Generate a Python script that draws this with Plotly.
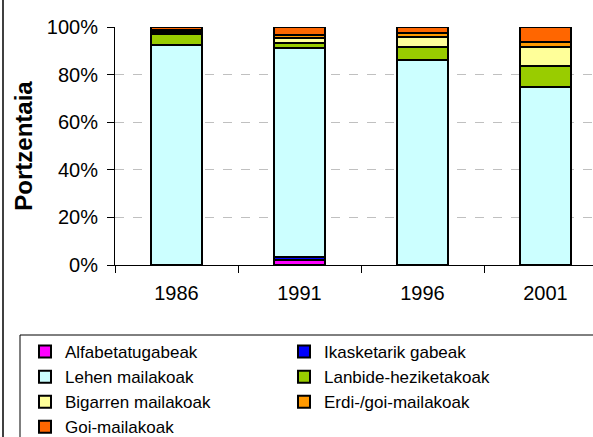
import plotly.graph_objects as go

years = ["1986", "1991", "1996", "2001"]
series_names = ["Alfabetatugabeak", "Ikasketarik gabeak", "Lehen mailakoak",
                "Lanbide-heziketakoak", "Bigarren mailakoak", "Erdi-/goi-mailakoak",
                "Goi-mailakoak"]
alfabetatugabeak = [0.0, 2.3, 0.0, 0.0]
ikasketarik_gabeak = [0.0, 1.2, 0.0, 0.0]
lehen_mailakoak = [92.4, 87.5, 86.0, 75.0]
lanbide_heziketakoak = [4.7, 2.1, 5.7, 8.7]
bigarren_mailakoak = [1.0, 2.2, 4.3, 7.8]
erdi_goi_mailakoak = [0.8, 1.5, 1.5, 2.0]
goi_mailakoak = [1.1, 3.2, 2.5, 6.5]
colors = ["#FF00FF", "#0000FF", "#CCFFFF", "#99CC00", "#FFFF99", "#FF9900", "#FF6600"]
y_ticks = [0, 20, 40, 60, 80, 100]

values = [alfabetatugabeak, ikasketarik_gabeak, lehen_mailakoak, lanbide_heziketakoak,
          bigarren_mailakoak, erdi_goi_mailakoak, goi_mailakoak]

FONT = "Liberation Sans, Arial, sans-serif"

fig = go.Figure()
for name, vals, col in zip(series_names, values, colors):
    fig.add_trace(go.Bar(
        x=years, y=vals, name=name,
        marker=dict(color=col, line=dict(color="black", width=2)),
    ))

W, H = 593, 437
L, T, R, B = 115, 27, 0, 172
pw = W - L - R
ph = H - T - B

def px_x(x):
    return (x - L) / pw

def px_y(y):
    return (H - B - y) / ph

fig.update_layout(
    width=W, height=H,
    margin=dict(l=L, r=R, t=T, b=B, autoexpand=False),
    barmode="stack",
    bargap=0.59,
    paper_bgcolor="white",
    plot_bgcolor="white",
    font=dict(family=FONT, color="black", size=20),
    showlegend=True,
    legend=dict(
        orientation="h",
        traceorder="normal",
        x=px_x(25), xanchor="left",
        y=px_y(334), yanchor="top",
        entrywidth=214, entrywidthmode="pixels",
        font=dict(family=FONT, size=17, color="black"),
        bgcolor="rgba(0,0,0,0)",
        borderwidth=0,
        itemwidth=30,
        tracegroupgap=0,
    ),
    xaxis=dict(
        type="category",
        range=[-0.5, 3.5 - 14 / 123],
        showline=True, linecolor="black", linewidth=1,
        ticks="outside", tickson="boundaries", ticklen=7, tickcolor="black",
        showgrid=False,
        tickfont=dict(size=20),
        ticklabelstandoff=10,
    ),
    yaxis=dict(
        range=[0, 100],
        tickvals=y_ticks,
        ticktext=[f"{v}%" for v in y_ticks],
        showline=True, linecolor="black", linewidth=1,
        ticks="outside", ticklen=7, tickcolor="black",
        showgrid=True, gridcolor="#C0C0C0", griddash="dash", gridwidth=1,
        zeroline=False,
        tickfont=dict(size=20),
        ticklabelstandoff=5,
        title=dict(text="<b>Portzentaia</b>", font=dict(size=24), standoff=7),
    ),
    shapes=[
        dict(type="line", xref="paper", yref="paper",
             x0=px_x(3), x1=px_x(3), y0=px_y(0), y1=px_y(437),
             line=dict(color="black", width=1.5)),
        dict(type="rect", xref="paper", yref="paper",
             x0=px_x(20), x1=px_x(620), y0=px_y(335), y1=px_y(460),
             line=dict(color="black", width=1), fillcolor="rgba(0,0,0,0)"),
    ],
)

fig.write_html(
    "out.html",
    config={"displayModeBar": False},
    post_script="document.body.style.margin='0';document.body.style.overflow='hidden';",
)
